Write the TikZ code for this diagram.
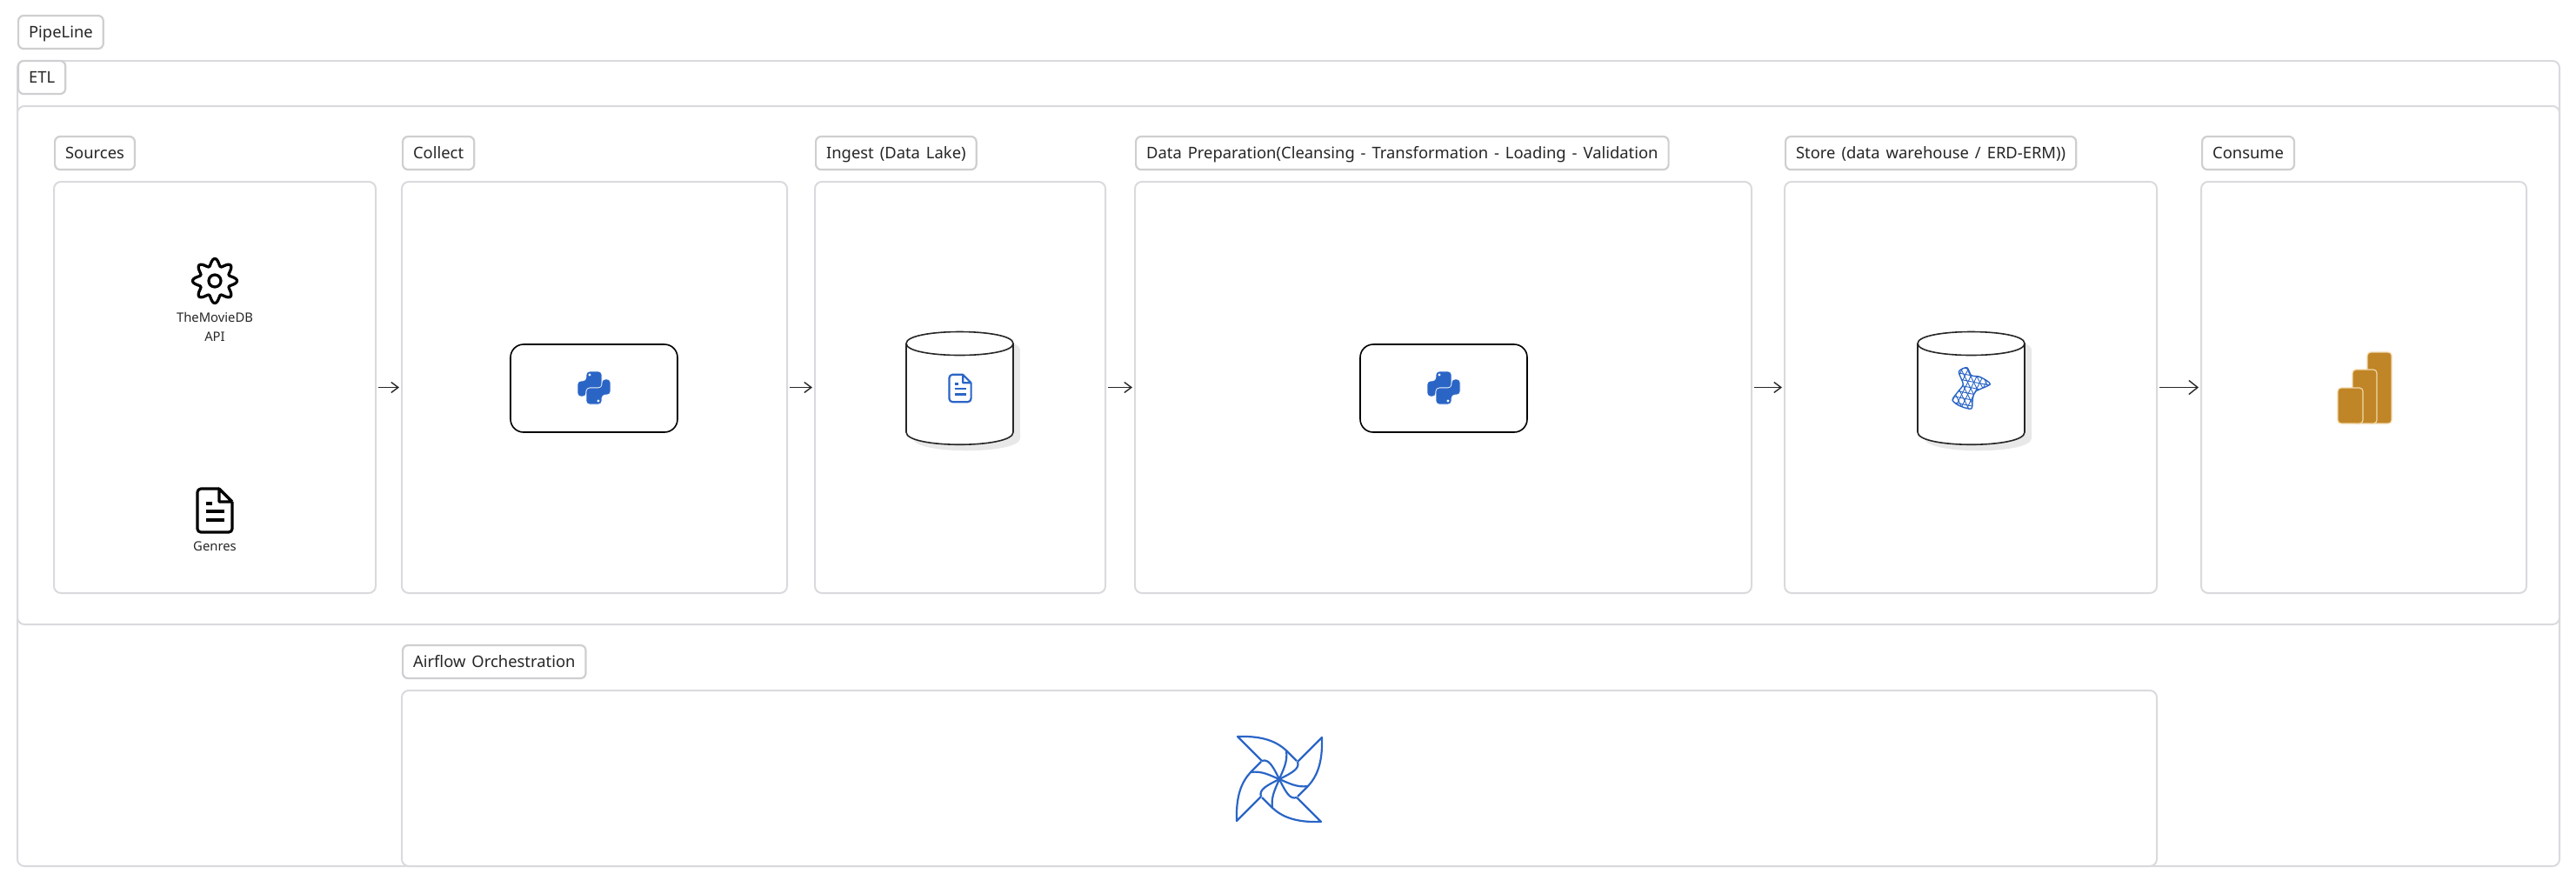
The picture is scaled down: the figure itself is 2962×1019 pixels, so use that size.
\documentclass[tikz,border=0pt]{standalone}
\usepackage{fontspec}
\setmainfont{Noto Sans}[WordSpace=1.45]
\usetikzlibrary{arrows.meta}
\definecolor{frameline}{HTML}{DADADE}
\definecolor{tagline}{HTML}{CFCFD1}
\definecolor{iconblue}{HTML}{2A65C6}
\definecolor{barfill}{HTML}{C08526}
\definecolor{barline}{HTML}{F0D8AC}
\definecolor{shadowgray}{HTML}{E8E8E8}
\tikzset{
  panelbox/.style={draw=frameline,line width=1pt,rounded corners=4pt,anchor=north west,outer sep=0pt,inner sep=0pt},
  paneltag/.style={draw=tagline,line width=1.1pt,fill=white,rounded corners=3pt,anchor=west,inner xsep=6pt,inner ysep=5pt,text height=7.6pt,text depth=1.4pt,text=black!85,font=\fontsize{9.2}{11}\selectfont},
  smalltext/.style={font=\fontsize{7.4}{11}\selectfont,align=center,text=black!85,inner sep=0pt},
  flowline/.style={-{Straight Barb[length=4pt,width=6pt]},line width=.7pt,black!85,shorten <=1.5pt,shorten >=1.5pt},
  workbox/.style={draw=black,line width=.8pt,rounded corners=7.5pt,minimum width=96pt,minimum height=50.5pt,outer sep=0pt,inner sep=0pt},
  gearicon/.pic={
    \draw[line width=1.6pt] plot[domain=0:360,samples=145,smooth] ({(21.5+4*cos(8*\x))*cos(\x)},{(21.5+4*cos(8*\x))*sin(\x)}) -- cycle;
    \draw[line width=1.6pt] (0,0) circle (7);
  },
  docicon/.pic={
    \draw[#1,line join=round,rounded corners=2pt] (5,-25) -- (-20,-25) -- (-20,25) -- (20,25) -- (20,-10);
    \draw[#1,line join=round] (20,-10) -- (5,-25) -- (5,-10) -- (20,-10);
    \draw[#1] (-10,-8) -- (-3,-8);
    \draw[#1] (-10,1) -- (11,1);
    \draw[#1] (-10,11) -- (11,11);
  },
  pythonicon/.pic={
    \foreach \r in {0,180}
      \filldraw[rotate=\r,iconblue,draw=white,line width=.3pt,rounded corners=2pt] (-9,-19) -- (9,-19) -- (9,0) -- (-9,0) -- (-9,10) -- (-19,10) -- (-19,-8) -- (-9,-8) -- cycle;
    \fill[white] (-5,-15) circle (1.7);
    \fill[white] (5,15) circle (1.7);
  },
  drumicon/.pic={
    \fill[shadowgray,shift={(8,7)}] (-61.5,-51.5) .. controls (-61.5,-69.5) and (61.5,-69.5) .. (61.5,-51.5) -- (61.5,50.5) .. controls (61.5,69.5) and (-61.5,69.5) .. (-61.5,50.5) -- cycle;
    \filldraw[fill=white,draw=black!85,line width=.8pt] (-61.5,-51.5) .. controls (-61.5,-69.5) and (61.5,-69.5) .. (61.5,-51.5) -- (61.5,50.5) .. controls (61.5,69.5) and (-61.5,69.5) .. (-61.5,50.5) -- cycle;
    \draw[black!85,line width=.8pt] (-61.5,-51.5) .. controls (-61.5,-33.5) and (61.5,-33.5) .. (61.5,-51.5);
  },
  netshape/.style={smooth cycle,tension=.45},
  sqlicon/.pic={
    \begin{scope}
    \clip plot[netshape] coordinates {(-13.7,-19.3) (-4.3,-24) (.7,-15) (10.7,-13.3) (22.3,-5) (5.7,3.3) (2.3,11.7) (.7,23.3) (-12.7,20) (-21,13.3) (-14.3,3.3) (-8.7,-5)};
    \foreach \k in {-42,-35,...,42} {
      \draw[iconblue,line width=.45pt] (-30,\k) -- (30,\k+12);
      \draw[iconblue,line width=.45pt] (\k-15,-30) -- (\k+15,30);
      \draw[iconblue,line width=.45pt] (\k+15,-30) -- (\k-15,30);
    }
    \end{scope}
    \draw[iconblue,line width=.7pt] plot[netshape] coordinates {(-13.7,-19.3) (-4.3,-24) (.7,-15) (10.7,-13.3) (22.3,-5) (5.7,3.3) (2.3,11.7) (.7,23.3) (-12.7,20) (-21,13.3) (-14.3,3.3) (-8.7,-5)};
  },
  airflowicon/.pic={
    \foreach \r in {0,90,180,270} {
      \draw[rotate=\r,iconblue,line width=1.1pt,line join=round] (-20,-21) -- (-48,-49) .. controls (-18,-50) and (-3,-43) .. (8,-33) -- (20,-21);
      \draw[rotate=\r,iconblue,line width=1.1pt] (-20,-21) .. controls (-12,-24) and (-7,-14) .. (0,0);
      \draw[rotate=\r,iconblue,line width=1.1pt] (8,-33) .. controls (10,-20) and (4,-10) .. (0,0);
    }
  }
}
\begin{document}
\begin{tikzpicture}[x=.5pt,y=-.5pt]
\useasboundingbox (0,0) rectangle (2962,1019);
% frames
\node[panelbox,minimum width=1461.5pt,minimum height=463pt] (etlframe) at (20,70) {};
\node[panelbox,minimum width=1461.5pt,minimum height=298pt] (mainframe) at (20,122) {};
\node[panelbox,minimum width=185pt,minimum height=236.5pt] (sources) at (62,209) {};
\node[panelbox,minimum width=221.5pt,minimum height=236.5pt] (collect) at (462,209) {};
\node[panelbox,minimum width=167pt,minimum height=236.5pt] (ingest) at (937,209) {};
\node[panelbox,minimum width=354.5pt,minimum height=236.5pt] (prepare) at (1305,209) {};
\node[panelbox,minimum width=214pt,minimum height=236.5pt] (store) at (2052,209) {};
\node[panelbox,minimum width=187pt,minimum height=236.5pt] (consume) at (2531,209) {};
\node[panelbox,minimum width=1009pt,minimum height=101pt] (airflow) at (462,794) {};
% tags
\node[paneltag] (pipelinetag) at (20,37) {PipeLine};
\node[paneltag] (etltag) at (20,89) {ETL};
\node[paneltag] (sourcestag) at (62,176) {Sources};
\node[paneltag] (collecttag) at (462,176) {Collect};
\node[paneltag] (ingesttag) at (937,176) {Ingest (Data Lake)};
\node[paneltag] (preparetag) at (1305,176) {Data Preparation(Cleansing - Transformation - Loading - Validation};
\node[paneltag] (storetag) at (2052,176) {Store (data warehouse / ERD-ERM))};
\node[paneltag] (consumetag) at (2531,176) {Consume};
\node[paneltag] (airflowtag) at (462,761) {Airflow Orchestration};
% sources
\pic at (247,323) {gearicon};
\node[smalltext] (moviedb) at (247,376) {TheMovieDB\\API};
\pic[line width=1.6pt] at (247,587) {docicon=black};
\node[smalltext] (genres) at (247,628) {Genres};
% collect
\node[workbox] (collectjob) at (683,446.5) {};
\pic at (683,446) {pythonicon};
% ingest
\pic at (1103.5,446.5) {drumicon};
\pic[line width=1.1pt,scale=.63] at (1104,446.5) {docicon=iconblue};
% prepare
\node[workbox] (preparejob) at (1660,446.5) {};
\pic at (1660,446) {pythonicon};
% store
\pic at (2266.5,446.5) {drumicon};
\pic at (2266,446.7) {sqlicon};
% consume
\filldraw[barfill,draw=barline,line width=.6pt,rounded corners=2pt] (2722,405) rectangle (2750,487);
\filldraw[barfill,draw=barline,line width=.6pt,rounded corners=2pt] (2705,425) rectangle (2733,487);
\filldraw[barfill,draw=barline,line width=.6pt,rounded corners=2pt] (2688,446) rectangle (2717,487);
% airflow
\pic at (1471,896) {airflowicon};
% flow
\draw[flowline] (sources) -- (collect);
\draw[flowline] (collect) -- (ingest);
\draw[flowline] (ingest) -- (prepare);
\draw[flowline] (prepare) -- (store);
\draw[flowline,-{Straight Barb[length=5pt,width=8pt]}] (store) -- (consume);
\end{tikzpicture}
\end{document}
